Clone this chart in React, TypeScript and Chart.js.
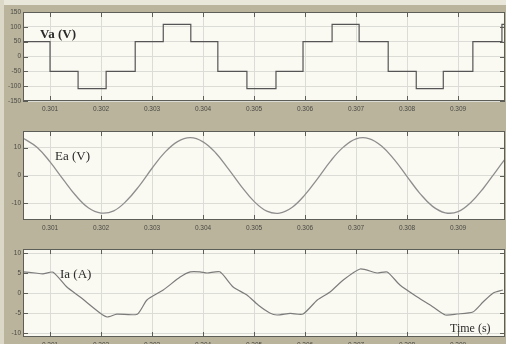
import React, { useEffect, useRef } from "react";
import { Chart, registerables } from "chart.js";

Chart.register(...registerables);

// ---- data ----
const xTicks = [0.301, 0.302, 0.303, 0.304, 0.305, 0.306, 0.307, 0.308, 0.309];
const xMin = 0.30047;
const xMax = 0.30992;

// Va: switching instants (s) and step levels (V)
const vaEdges = [
  0.30047, 0.301, 0.30155, 0.3021, 0.30267, 0.30322, 0.30376, 0.30429, 0.30486,
  0.30543, 0.30596, 0.30653, 0.30706, 0.30763, 0.30818, 0.30871, 0.30929, 0.30986, 0.30992,
];
const vaLevels = [50, -50, -108, -50, 50, 108, 50, -50, -108, -50, 50, 108, 50, -50, -108, -50, 50, 108];
const vaTicks = [-150, -100, -50, 0, 50, 100, 150];

// Ea
const eaTimes = [
  0.30047, 0.3005, 0.30075, 0.301, 0.30125, 0.3015, 0.30175, 0.302, 0.30225, 0.3025, 0.30275,
  0.303, 0.30325, 0.3035, 0.30375, 0.304, 0.30425, 0.3045, 0.30475, 0.305, 0.30525, 0.3055,
  0.30575, 0.306, 0.30625, 0.3065, 0.30675, 0.307, 0.30725, 0.3075, 0.30775, 0.308, 0.30825,
  0.3085, 0.30875, 0.309, 0.30925, 0.3095, 0.30975, 0.30992,
];
const eaValues = [
  13.3, 13.1, 10.1, 4.9, -1.2, -7.1, -11.6, -13.5, -12.7, -9.1, -3.7,
  2.6, 8.3, 12.2, 13.6, 12.1, 8.1, 2.3, -3.9, -9.3, -12.8, -13.5,
  -11.4, -6.9, -1.0, 5.2, 10.2, 13.2, 13.3, 10.6, 5.7, -0.4, -6.4,
  -11.1, -13.4, -13.0, -9.7, -4.5, 1.7, 5.9,
];
const eaTicks = [-10, 0, 10];

// Ia
const iaTimes = [
  0.30047, 0.30071, 0.30086, 0.30106, 0.30133, 0.30159, 0.30198, 0.30212, 0.30231, 0.30271,
  0.3029, 0.30322, 0.30355, 0.30375, 0.30394, 0.30408, 0.30433, 0.30459, 0.30486, 0.30508,
  0.30531, 0.30545, 0.30571, 0.30596, 0.30624, 0.30649, 0.30675, 0.30708, 0.30741, 0.30761,
  0.30786, 0.3082, 0.30851, 0.30875, 0.30898, 0.30929, 0.30949, 0.30969, 0.30988,
];
const iaValues = [
  5.3, 5.0, 4.8, 5.2, 1.5, -1.0, -5.0, -6.0, -5.3, -5.3,
  -1.75, 0.75, 4.0, 5.3, 5.3, 5.0, 5.3, 1.5, -0.5, -3.0,
  -5.0, -5.5, -5.1, -5.25, -1.75, 0.25, 3.25, 6.0, 5.0, 5.25,
  2.0, -1.0, -3.5, -5.5, -5.25, -4.75, -2.25, 0.0, 0.75,
];
const iaTicks = [-10, -5, 0, 5, 10];

// ---- styling ----
const KHAKI = "#bab49d";
const PLOT_BG = "#fbfaf2";
const W = 506;
const H = 344;

const panelPlugin = {
  id: "panelDeco",
  beforeDraw(chart: any) {
    const { ctx, chartArea: a } = chart;
    ctx.save();
    ctx.fillStyle = PLOT_BG;
    ctx.fillRect(a.left, a.top, a.right - a.left, a.bottom - a.top);
    ctx.restore();
  },
  afterDraw(chart: any) {
    const { ctx, chartArea: a, scales } = chart;
    ctx.save();
    ctx.strokeStyle = "#5e5e58";
    ctx.lineWidth = 1;
    ctx.strokeRect(a.left + 0.5, a.top + 0.5, a.right - a.left - 1, a.bottom - a.top - 1);
    ctx.beginPath();
    scales.x.ticks.forEach((t: any) => {
      const px = Math.round(scales.x.getPixelForValue(t.value)) + 0.5;
      ctx.moveTo(px, a.top);
      ctx.lineTo(px, a.top + 5);
      ctx.moveTo(px, a.bottom);
      ctx.lineTo(px, a.bottom - 5);
    });
    scales.y.ticks.forEach((t: any) => {
      const py = Math.round(scales.y.getPixelForValue(t.value)) + 0.5;
      ctx.moveTo(a.left, py);
      ctx.lineTo(a.left + 5, py);
      ctx.moveTo(a.right, py);
      ctx.lineTo(a.right - 5, py);
    });
    ctx.stroke();
    ctx.restore();
  },
};

type PanelSpec = {
  top: number;
  bottom: number;
  yMin: number;
  yMax: number;
  yTicks: number[];
  data: { x: number; y: number }[];
  color: string;
  width: number;
  tension: number;
};

function buildVa() {
  const pts: { x: number; y: number }[] = [];
  for (let i = 0; i < vaLevels.length; i++) {
    pts.push({ x: vaEdges[i], y: vaLevels[i] });
    pts.push({ x: vaEdges[i + 1], y: vaLevels[i] });
  }
  return pts;
}

const panels: PanelSpec[] = [
  {
    top: 12,
    bottom: 101,
    yMin: -150,
    yMax: 150,
    yTicks: vaTicks,
    data: buildVa(),
    color: "#555555",
    width: 1.2,
    tension: 0,
  },
  {
    top: 131,
    bottom: 220,
    yMin: -16,
    yMax: 16,
    yTicks: eaTicks,
    data: eaTimes.map((t, i) => ({ x: t, y: eaValues[i] })),
    color: "#8e8e8e",
    width: 1.3,
    tension: 0.4,
  },
  {
    top: 249,
    bottom: 337,
    yMin: -11,
    yMax: 11,
    yTicks: iaTicks,
    data: iaTimes.map((t, i) => ({ x: t, y: iaValues[i] })),
    color: "#7c7c7c",
    width: 1.2,
    tension: 0.2,
  },
];

function Panel({ spec }: { spec: PanelSpec }) {
  const ref = useRef<HTMLCanvasElement>(null);
  useEffect(() => {
    if (!ref.current) return;
    const chart = new Chart(ref.current, {
      type: "line",
      data: {
        datasets: [
          {
            data: spec.data,
            borderColor: spec.color,
            borderWidth: spec.width,
            pointRadius: 0,
            tension: spec.tension,
            fill: false,
          },
        ],
      },
      options: {
        animation: false,
        responsive: false,
        devicePixelRatio: 1,
        layout: { padding: { top: spec.top, right: 1, left: 0, bottom: 0 } },
        plugins: { legend: { display: false }, tooltip: { enabled: false } },
        scales: {
          x: {
            type: "linear",
            min: xMin,
            max: xMax,
            afterBuildTicks: (s: any) => {
              s.ticks = xTicks.map((v) => ({ value: v }));
            },
            afterFit: (s: any) => {
              s.height = H - spec.bottom;
            },
            grid: { color: "#dcdcd6", drawTicks: false, lineWidth: 1 },
            border: { display: false },
            ticks: {
              padding: 4,
              color: "#4a4a44",
              font: { family: "Liberation Sans", size: 6.5 },
              maxRotation: 0,
              autoSkip: false,
              callback: (v: any) => Number(v).toFixed(3),
            },
          },
          y: {
            type: "linear",
            min: spec.yMin,
            max: spec.yMax,
            afterBuildTicks: (s: any) => {
              s.ticks = spec.yTicks.map((v) => ({ value: v }));
            },
            afterFit: (s: any) => {
              s.width = 23;
            },
            grid: { color: "#dcdcd6", drawTicks: false, lineWidth: 1 },
            border: { display: false },
            ticks: {
              padding: 2,
              color: "#4a4a44",
              font: { family: "Liberation Sans", size: 6.5 },
              autoSkip: false,
              callback: (v: any) => String(v),
            },
          },
        },
      },
      plugins: [panelPlugin],
    });
    return () => chart.destroy();
  }, [spec]);
  return (
    <canvas
      ref={ref}
      width={W}
      height={H}
      style={{ position: "absolute", left: 0, top: 0, width: W, height: H }}
    />
  );
}

const labelStyle: React.CSSProperties = {
  position: "absolute",
  fontFamily: "'Liberation Serif', 'DejaVu Serif', serif",
  fontSize: 13,
  lineHeight: "13px",
  color: "#2a2a2a",
  whiteSpace: "nowrap",
};

export default function App() {
  return (
    <div
      style={{
        position: "absolute",
        left: 0,
        top: 0,
        width: W,
        height: H,
        background: KHAKI,
        overflow: "hidden",
      }}
    >
      <div style={{ position: "absolute", left: 0, top: 0, width: W, height: 5, background: "#e9e6da" }} />
      <div style={{ position: "absolute", left: 0, top: 0, width: 4, height: H, background: "#dcd8c8" }} />
      {panels.map((p, i) => (
        <Panel key={i} spec={p} />
      ))}
      <div style={{ ...labelStyle, left: 40, top: 27, fontWeight: "bold" }}>Va (V)</div>
      <div style={{ ...labelStyle, left: 55, top: 149 }}>Ea (V)</div>
      <div style={{ ...labelStyle, left: 60, top: 267 }}>Ia (A)</div>
      <div style={{ ...labelStyle, left: 450, top: 322, fontSize: 12 }}>Time (s)</div>
    </div>
  );
}
